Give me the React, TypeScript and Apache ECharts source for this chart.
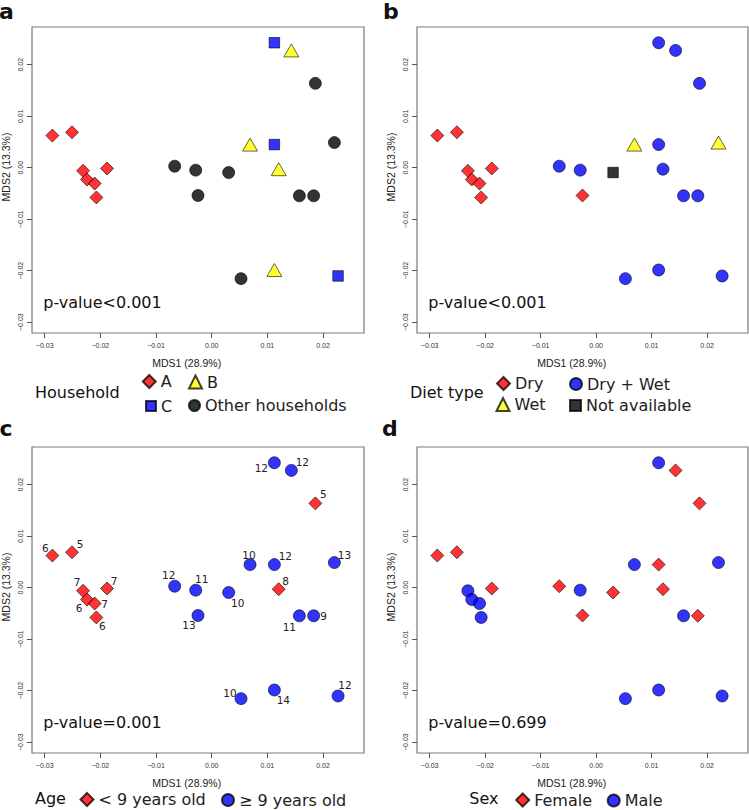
import React, { useEffect, useRef } from "react";
import * as echarts from "echarts";

// ---- data ----
const mds1 = [
  -0.02862, -0.02509, -0.02311, -0.0224, -0.02102, -0.02072, -0.0188,
  -0.00665, -0.00287, -0.00246, 0.00305, 0.00527, 0.01862, 0.02204, 0.01575,
  0.01832, 0.00689, 0.01204, 0.01431, 0.01126, 0.01126, 0.01126, 0.0227,
];
const mds2 = [
  0.00624, 0.00688, -0.0006, -0.0023, -0.00307, -0.00578, -0.00016,
  0.00029, -0.00048, -0.0054, -0.00094, -0.02155, 0.01638, 0.00488, -0.00546,
  -0.00546, 0.00449, -0.00029, 0.02278, -0.01987, 0.02427, 0.00449, -0.02103,
];
const household = [
  "A", "A", "A", "A", "A", "A", "A",
  "Other households", "Other households", "Other households", "Other households",
  "Other households", "Other households", "Other households", "Other households",
  "Other households", "B", "B", "B", "B", "C", "C", "C",
];
const diet = [
  "Dry", "Dry", "Dry", "Dry", "Dry", "Dry", "Dry",
  "Dry + Wet", "Dry + Wet", "Dry", "Not available", "Dry + Wet", "Dry + Wet",
  "Wet", "Dry + Wet", "Dry + Wet", "Wet", "Dry + Wet", "Dry + Wet", "Dry + Wet",
  "Dry + Wet", "Dry + Wet", "Dry + Wet",
];
const ageYears = [6, 5, 7, 6, 7, 6, 7, 12, 11, 13, 10, 10, 5, 13, 11, 9, 10, 8, 12, 14, 12, 12, 12];
const sex = [
  "Female", "Female", "Male", "Male", "Male", "Male", "Female",
  "Female", "Male", "Female", "Female", "Male", "Female", "Male", "Male",
  "Female", "Male", "Female", "Female", "Male", "Male", "Female", "Male",
];

const tickValues = [-0.03, -0.02, -0.01, 0, 0.01, 0.02];
const tickLabels = ["\u22120.03", "\u22120.02", "\u22120.01", "0.00", "0.01", "0.02"];
const xTitle = "MDS1 (28.9%)";
const yTitle = "MDS2 (13.3%)";
const panelLetters = ["a", "b", "c", "d"];
const pValueTexts = ["p-value<0.001", "p-value<0.001", "p-value=0.001", "p-value=0.699"];
const legendTitles = ["Household", "Diet type", "Age", "Sex"];
const householdGroups = ["A", "B", "C", "Other households"];
const dietGroups = ["Dry", "Dry + Wet", "Wet", "Not available"];
const ageGroups = ["< 9 years old", "\u2265 9 years old"];
const sexGroups = ["Female", "Male"];
const ageCut = 9;

// ---- layout / style ----
const X_MIN = -0.03228;
const X_MAX = 0.02736;
const Y_MIN = -0.03211;
const Y_MAX = 0.02733;

const grids = [
  { left: 32, top: 27, width: 332, height: 306 },
  { left: 417, top: 27, width: 331, height: 306 },
  { left: 32, top: 447, width: 332, height: 306 },
  { left: 417, top: 447, width: 331, height: 306 },
];
const panelDX = [0, 385, 0, 385];
const panelDY = [0, 0, 420, 420];

const RED = "rgba(255,0,0,0.8)";
const BLUE = "rgba(0,0,255,0.8)";
const YELLOW = "rgba(255,255,0,0.8)";
const BLACK = "rgba(0,0,0,0.8)";
const EDGE = "rgba(0,0,0,0.75)";

const styleOf: Record<string, { symbol: string; size: number | number[]; color: string }> = {
  A: { symbol: "diamond", size: 13, color: RED },
  B: { symbol: "triangle", size: [15, 13], color: YELLOW },
  C: { symbol: "rect", size: 10.5, color: BLUE },
  "Other households": { symbol: "circle", size: 12, color: BLACK },
  Dry: { symbol: "diamond", size: 13, color: RED },
  "Dry + Wet": { symbol: "circle", size: 12, color: BLUE },
  Wet: { symbol: "triangle", size: [15, 13], color: YELLOW },
  "Not available": { symbol: "rect", size: 10.5, color: BLACK },
  "< 9 years old": { symbol: "diamond", size: 13, color: RED },
  "\u2265 9 years old": { symbol: "circle", size: 12, color: BLUE },
  Female: { symbol: "diamond", size: 13, color: RED },
  Male: { symbol: "circle", size: 12, color: BLUE },
};

// label offsets for the age numbers (panel c), in px relative to each point
const ageLabelOffsets = [
  [-7, -8], [8, -8], [-6, -9], [-8, 8], [10, 0], [6, 9], [7, -8],
  [-6, -11], [6, -11], [-9, 10], [9, 10], [-11, -6], [8, -9], [10, -8], [-10, 11],
  [10, 0], [-1, -10], [7, -8], [11, -8], [9, 10], [-13, 5], [11, -9], [7, -11],
];

// legend item boxes: [left, top, size]
const legendBoxes: Record<string, number[]> = {
  A: [141.8, 373.5, 13],
  B: [188, 374, 13],
  C: [145, 398, 10],
  "Other households": [188, 397.5, 11],
  Dry: [496, 375.5, 13],
  "Dry + Wet": [569, 376, 12],
  Wet: [495.5, 396.5, 13],
  "Not available": [569, 397.5, 11],
  "< 9 years old": [79.5, 791.5, 13],
  "\u2265 9 years old": [221, 792, 12],
  Female: [515.2, 792, 13],
  Male: [606.7, 792.5, 12],
};

const SANS = "DejaVu Sans";
const ARIAL = "Liberation Sans";

function tickLabel(v: number): string {
  const i = tickValues.findIndex((t) => Math.abs(t - v) < 1e-9);
  return i >= 0 ? tickLabels[i] : "";
}

export default function App() {
  const ref = useRef<HTMLDivElement>(null);
  useEffect(() => {
    if (!ref.current) return;
    const chart = echarts.init(ref.current, undefined, { renderer: "svg" });

    const panels = [
      { groups: householdGroups, key: household },
      { groups: dietGroups, key: diet },
      { groups: ageGroups, key: ageYears.map((a) => (a < ageCut ? ageGroups[0] : ageGroups[1])) },
      { groups: sexGroups, key: sex },
    ];

    const series: any[] = [];
    panels.forEach((p, pi) => {
      p.groups.forEach((g) => {
        const st = styleOf[g];
        const data: any[] = [];
        mds1.forEach((x, i) => {
          if (p.key[i] !== g) return;
          const item: any = { value: [x, mds2[i], ageYears[i]] };
          if (pi === 2) item.label = { offset: ageLabelOffsets[i] };
          data.push(item);
        });
        series.push({
          type: "scatter",
          name: g,
          xAxisIndex: pi,
          yAxisIndex: pi,
          symbol: st.symbol,
          symbolSize: st.size,
          itemStyle: { color: st.color, borderColor: EDGE, borderWidth: 0.8, opacity: 1 },
          emphasis: { disabled: true },
          label:
            pi === 2
              ? {
                  show: true,
                  position: "inside",
                  formatter: (q: any) => String(q.value[2]),
                  fontSize: 10.5,
                  fontFamily: SANS,
                  color: "#222",
                }
              : { show: false },
          data,
        });
      });
    });

    const xAxes = grids.map((_, i) => ({
      type: "value",
      gridIndex: i,
      min: X_MIN,
      max: X_MAX,
      axisLine: { show: false, onZero: false },
      splitLine: { show: false },
      axisTick: {
        show: true,
        inside: false,
        length: 5,
        lineStyle: { color: "#555", width: 1 },
        customValues: tickValues,
      },
      axisLabel: {
        show: true,
        margin: 9,
        fontSize: 7,
        fontFamily: ARIAL,
        color: "#333",
        customValues: tickValues,
        formatter: (v: number) => tickLabel(v),
      },
    }));
    const yAxes = grids.map((_, i) => ({
      type: "value",
      gridIndex: i,
      min: Y_MIN,
      max: Y_MAX,
      axisLine: { show: false, onZero: false },
      splitLine: { show: false },
      axisTick: {
        show: true,
        inside: false,
        length: 5,
        lineStyle: { color: "#555", width: 1 },
        customValues: tickValues,
      },
      axisLabel: {
        show: true,
        margin: 8,
        rotate: 90,
        fontSize: 7,
        fontFamily: ARIAL,
        color: "#333",
        customValues: tickValues,
        formatter: (v: number) => tickLabel(v),
      },
    }));

    const legends: any[] = [];
    [householdGroups, dietGroups, ageGroups, sexGroups].forEach((gs) => {
      gs.forEach((g) => {
        const b = legendBoxes[g];
        legends.push({
          data: [{ name: g, icon: styleOf[g].symbol }],
          left: b[0],
          top: b[1],
          itemWidth: b[2],
          itemHeight: b[2],
          padding: 0,
          selectedMode: false,
          textStyle: { fontSize: 16, fontFamily: SANS, color: "#222" },
        });
      });
    });

    const graphics: any[] = [];
    const letterPos = [
      [-1, 11.5],
      [383, 11.5],
      [-0.5, 428.5],
      [382, 428.5],
    ];
    const legendTitlePos = [
      [35, 392],
      [410, 392],
      [35, 798],
      [469.3, 798.5],
    ];
    grids.forEach((_, i) => {
      const dx = panelDX[i];
      const dy = panelDY[i];
      graphics.push({
        type: "text",
        x: letterPos[i][0],
        y: letterPos[i][1],
        style: {
          text: panelLetters[i],
          fontSize: 22,
          fontWeight: "bold",
          fontFamily: SANS,
          fill: "#111",
          verticalAlign: "middle",
        },
      });
      graphics.push({
        type: "text",
        x: 43.3 + dx,
        y: 302 + dy,
        style: {
          text: pValueTexts[i],
          fontSize: 16,
          fontFamily: SANS,
          fill: "#111",
          verticalAlign: "middle",
        },
      });
      graphics.push({
        type: "text",
        x: 186.7 + dx,
        y: 362.5 + dy,
        style: {
          text: xTitle,
          fontSize: 10.5,
          fontFamily: ARIAL,
          fill: "#222",
          align: "center",
          verticalAlign: "middle",
        },
      });
      graphics.push({
        type: "text",
        x: 6 + dx,
        y: 167 + dy,
        rotation: Math.PI / 2,
        style: {
          text: yTitle,
          fontSize: 10.5,
          fontFamily: ARIAL,
          fill: "#222",
          align: "center",
          verticalAlign: "middle",
        },
      });
      graphics.push({
        type: "text",
        x: legendTitlePos[i][0],
        y: legendTitlePos[i][1],
        style: {
          text: legendTitles[i],
          fontSize: 16,
          fontFamily: SANS,
          fill: "#111",
          verticalAlign: "middle",
        },
      });
    });

    chart.setOption({
      animation: false,
      backgroundColor: "#ffffff",
      grid: grids.map((g) => ({
        ...g,
        show: true,
        borderColor: "#7a7a7a",
        borderWidth: 1.2,
        backgroundColor: "transparent",
        containLabel: false,
      })),
      xAxis: xAxes,
      yAxis: yAxes,
      legend: legends,
      series,
      graphic: graphics,
    });

    return () => chart.dispose();
  }, []);

  return (
    <div
      ref={ref}
      style={{ position: "absolute", left: 0, top: 0, width: 749, height: 810 }}
    />
  );
}
